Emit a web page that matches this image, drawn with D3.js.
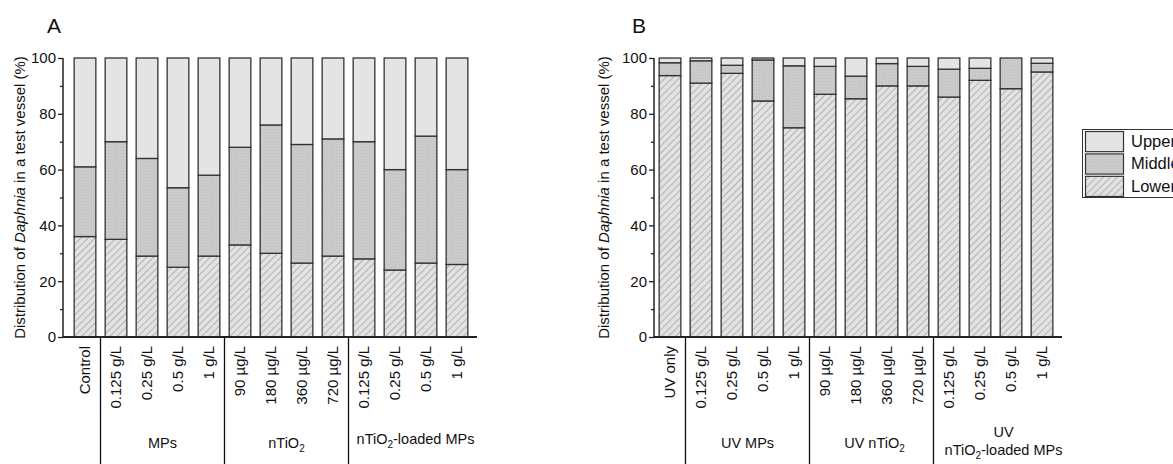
<!DOCTYPE html>
<html>
<head>
<meta charset="utf-8">
<script src="https://cdn.jsdelivr.net/npm/d3@7"></script>
<style>
  body { margin: 0; background: #fff; }
  svg text { font-family: Arial, "Liberation Sans", sans-serif; fill: #111; }
</style>
</head>
<body>
<svg width="1173" height="464"></svg>
<script>
// categories
const catsA = ['Control', '0.125 g/L', '0.25 g/L', '0.5 g/L', '1 g/L', '90 µg/L', '180 µg/L', '360 µg/L', '720 µg/L', '0.125 g/L', '0.25 g/L', '0.5 g/L', '1 g/L'];
const catsB = ['UV only', '0.125 g/L', '0.25 g/L', '0.5 g/L', '1 g/L', '90 µg/L', '180 µg/L', '360 µg/L', '720 µg/L', '0.125 g/L', '0.25 g/L', '0.5 g/L', '1 g/L'];

// series values (%)
const lowerA  = [36, 35, 29, 25, 29, 33, 30, 26.5, 29, 28, 24, 26.5, 26];
const middleA = [25, 35, 35, 28.5, 29, 35, 46, 42.5, 42, 42, 36, 45.5, 34];
const upperA  = [39, 30, 36, 46.5, 42, 32, 24, 31, 29, 30, 40, 28, 40];

const lowerB  = [93.7, 91, 94.5, 84.6, 75, 87, 85.4, 90, 90, 86, 92, 89, 95];
const middleB = [4.6, 8, 2.9, 14.7, 22.2, 10, 8.1, 8, 7, 10, 4.3, 11, 3.1];
const upperB  = [1.7, 1, 2.6, 0.7, 2.8, 3, 6.5, 2, 3, 4, 3.7, 0, 1.9];

// groups under the axis (first..last category index)
const groupsA = [
  { lines: [['MPs']], first: 1, last: 4 },
  { lines: [['nTiO', '2', '']], first: 5, last: 8 },
  { lines: [['nTiO', '2', '-loaded MPs']], first: 9, last: 12, dx: 5, up: 4 }
];
const groupsB = [
  { lines: [['UV MPs']], first: 1, last: 4 },
  { lines: [['UV nTiO', '2', '']], first: 5, last: 8, dx: 3 },
  { lines: [['UV'], ['nTiO', '2', '-loaded MPs']], first: 9, last: 12, dx: 8 }
];

const yTicks = [0, 20, 40, 60, 80, 100];
const yMinor = [10, 30, 50, 70, 90];
const keys = ['lower', 'middle', 'upper'];
const legendLabels = ['Upper', 'Middle', 'Lower'];

const svg = d3.select('svg');
const defs = svg.append('defs');

// lower: diagonal hatch
const hatch = defs.append('pattern')
  .attr('id', 'hatch')
  .attr('patternUnits', 'userSpaceOnUse')
  .attr('width', 5).attr('height', 5)
  .attr('patternTransform', 'rotate(45)');
hatch.append('rect').attr('width', 5).attr('height', 5).attr('fill', '#e2e2e2');
hatch.append('line').attr('x1', 0).attr('y1', 0).attr('x2', 0).attr('y2', 5)
  .attr('stroke', '#6a6a6a').attr('stroke-width', 0.8);

// middle: fine crosshatch texture
const dots = defs.append('pattern')
  .attr('id', 'dots')
  .attr('patternUnits', 'userSpaceOnUse')
  .attr('width', 3).attr('height', 3);
dots.append('rect').attr('width', 3).attr('height', 3).attr('fill', '#cdcdcd');
dots.append('rect').attr('width', 1).attr('height', 1).attr('fill', '#b9b9b9');
dots.append('rect').attr('x', 1.5).attr('y', 1.5).attr('width', 1).attr('height', 1).attr('fill', '#bfbfbf');

const fills = { lower: 'url(#hatch)', middle: 'url(#dots)', upper: '#e4e4e4' };

const y = d3.scaleLinear().domain([0, 100]).range([337, 58]);

function drawPanel(p) {
  const g = svg.append('g');
  const x = d3.scaleBand()
    .domain(d3.range(p.cats.length))
    .range(p.band)
    .paddingInner(0.3)
    .paddingOuter(0.15);

  const rows = p.cats.map((c, i) => ({ i, lower: p.lower[i], middle: p.middle[i], upper: p.upper[i] }));
  const series = d3.stack().keys(keys)(rows);

  g.selectAll('.layer')
    .data(series)
    .enter()
    .append('g')
    .attr('fill', d => fills[d.key])
    .selectAll('rect')
    .data(d => d)
    .enter()
    .append('rect')
    .attr('x', d => x(d.data.i))
    .attr('width', x.bandwidth())
    .attr('y', d => y(d[1]))
    .attr('height', d => y(d[0]) - y(d[1]))
    .attr('stroke', '#333')
    .attr('stroke-width', 1.3);

  // y axis
  const yAxis = g.append('g')
    .attr('transform', `translate(${p.axisX},0)`)
    .call(d3.axisLeft(y).tickValues(yTicks).tickSize(5).tickPadding(2));
  yAxis.select('.domain').remove();
  yAxis.selectAll('line').attr('stroke', '#222').attr('stroke-width', 1.3);
  yAxis.selectAll('text').style('font-size', '15px').attr('fill', '#111');

  const yMin = g.append('g')
    .attr('transform', `translate(${p.axisX},0)`)
    .call(d3.axisLeft(y).tickValues(yMinor).tickSize(3).tickFormat(''));
  yMin.select('.domain').remove();
  yMin.selectAll('line').attr('stroke', '#222').attr('stroke-width', 1.3);

  g.append('line')
    .attr('x1', p.axisX).attr('x2', p.axisX)
    .attr('y1', y(0)).attr('y2', y(100))
    .attr('stroke', '#222').attr('stroke-width', 1.5);
  g.append('line')
    .attr('x1', p.axisX).attr('x2', p.axisEnd)
    .attr('y1', y(0)).attr('y2', y(0))
    .attr('stroke', '#222').attr('stroke-width', 2);

  // category labels
  g.selectAll('.cat')
    .data(p.cats)
    .enter()
    .append('text')
    .attr('transform', (d, i) => `translate(${x(i) + x.bandwidth() / 2},346) rotate(-90)`)
    .attr('dy', '0.35em')
    .attr('text-anchor', 'end')
    .style('font-size', '15px')
    .text(d => d);

  // group separators and labels
  const step = x.step();
  p.groups.forEach(gr => {
    const sx = x(gr.first) - (step - x.bandwidth()) / 2;
    g.append('line')
      .attr('x1', sx).attr('x2', sx)
      .attr('y1', y(0)).attr('y2', 464)
      .attr('stroke', '#111').attr('stroke-width', 1.3);
    const cx = (x(gr.first) + x(gr.last) + x.bandwidth()) / 2 + (gr.dx || 0);
    const baseY = (gr.lines.length > 1 ? 437 : 448) - (gr.up || 0);
    gr.lines.forEach((ln, k) => {
      const t = g.append('text')
        .attr('x', cx)
        .attr('y', baseY + k * 17.5)
        .attr('text-anchor', 'middle')
        .style('font-size', '14.5px');
      t.append('tspan').text(ln[0]);
      if (ln.length > 1) {
        t.append('tspan').attr('dy', 4).style('font-size', '10px').text(ln[1]);
        t.append('tspan').attr('dy', -4).text(ln[2]);
      }
    });
  });

  // y title
  const title = g.append('text')
    .attr('transform', `translate(${p.titleX},${(y(0) + y(100)) / 2}) rotate(-90)`)
    .attr('dy', '0.35em')
    .attr('text-anchor', 'middle')
    .style('font-size', '15px');
  title.append('tspan').text('Distribution of ');
  title.append('tspan').style('font-style', 'italic').text('Daphnia');
  title.append('tspan').text(' in a test vessel (%)');

  // panel letter
  g.append('text')
    .attr('x', p.letterX).attr('y', 33)
    .style('font-size', '21px')
    .text(p.letter);
}

drawPanel({
  letter: 'A', letterX: 47, titleX: 20,
  cats: catsA, lower: lowerA, middle: middleA, upper: upperA,
  groups: groupsA,
  band: [69.5, 472.5], axisX: 63, axisEnd: 477
});

drawPanel({
  letter: 'B', letterX: 632, titleX: 604,
  cats: catsB, lower: lowerB, middle: middleB, upper: upperB,
  groups: groupsB,
  band: [654.5, 1057.5], axisX: 654, axisEnd: 1062
});

// legend
const leg = svg.append('g');
leg.append('rect')
  .attr('x', 1082.5).attr('y', 129.5)
  .attr('width', 120).attr('height', 68)
  .attr('fill', '#fff').attr('stroke', '#333').attr('stroke-width', 1);
const legY = d3.scaleBand().domain(legendLabels).range([131, 196]).paddingInner(0.1);
const legFill = { Upper: fills.upper, Middle: fills.middle, Lower: fills.lower };
leg.selectAll('.sw')
  .data(legendLabels)
  .enter()
  .append('rect')
  .attr('x', 1085.5)
  .attr('y', d => legY(d) + 0.5)
  .attr('width', 38)
  .attr('height', legY.bandwidth())
  .attr('fill', d => legFill[d])
  .attr('stroke', '#333').attr('stroke-width', 1.2);
leg.selectAll('.lt')
  .data(legendLabels)
  .enter()
  .append('text')
  .attr('x', 1131)
  .attr('y', d => legY(d) + legY.bandwidth() / 2)
  .attr('dy', '0.36em')
  .style('font-size', '16.5px')
  .text(d => d);
</script>
</body>
</html>
